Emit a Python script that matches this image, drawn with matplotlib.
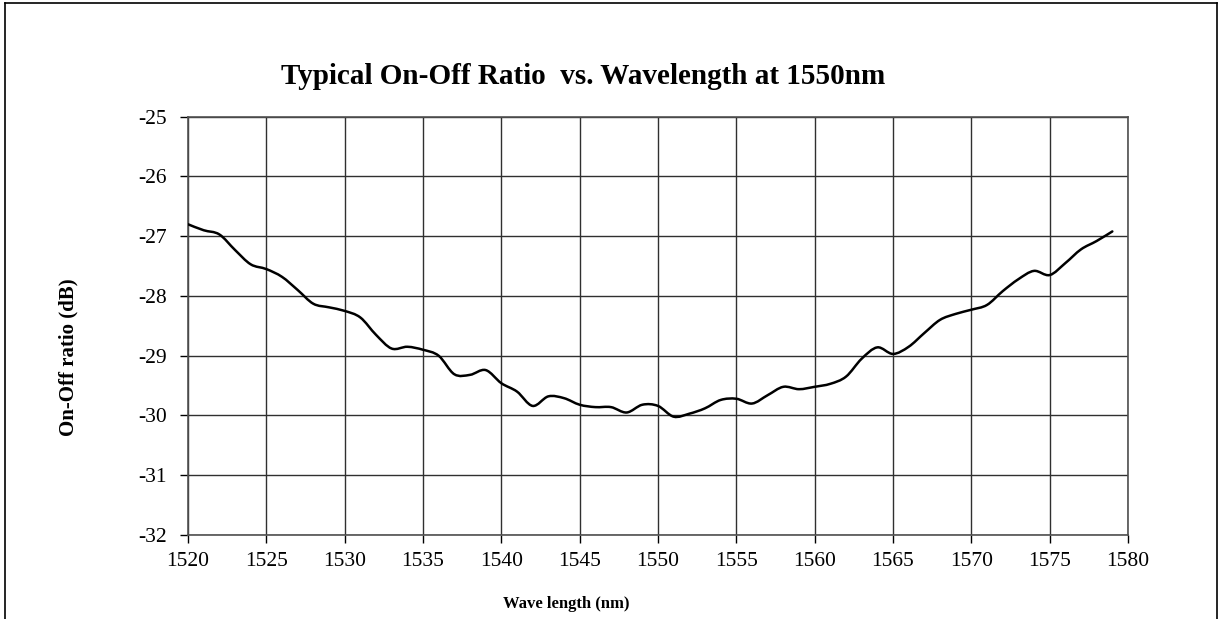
import matplotlib
matplotlib.use("Agg")
import matplotlib.pyplot as plt
from matplotlib.lines import Line2D
from matplotlib.path import Path
from matplotlib.patches import PathPatch
import numpy as np

wavelength = list(range(1520, 1580))
on_off_ratio = [
    -26.80, -26.90, -26.97, -27.23, -27.47, -27.55, -27.68, -27.90, -28.13, -28.19,
    -28.25, -28.36, -28.65, -28.88, -28.85, -28.90, -29.00, -29.31, -29.32, -29.24,
    -29.46, -29.60, -29.84, -29.68, -29.71, -29.82, -29.86, -29.86, -29.95, -29.82,
    -29.84, -30.02, -29.97, -29.88, -29.74, -29.72, -29.80, -29.66, -29.52, -29.56,
    -29.52, -29.47, -29.35, -29.05, -28.86, -28.97, -28.85, -28.62, -28.40, -28.30,
    -28.23, -28.15, -27.92, -27.72, -27.58, -27.65, -27.45, -27.22, -27.08, -26.92,
]
x_ticks = list(range(1520, 1581, 5))
y_ticks = list(range(-32, -24, 1))

title = "Typical On-Off Ratio  vs. Wavelength at 1550nm"
xlabel = "Wave length (nm)"
ylabel = "On-Off ratio (dB)"

plt.rcParams['font.family'] = ['Liberation Serif', 'DejaVu Serif']
plt.rcParams['axes.unicode_minus'] = False

W, H = 1225, 619
fig = plt.figure(figsize=(W / 100, H / 100), dpi=100)
fig.patch.set_facecolor('white')

# outer chart frame
frame_kw = dict(color='black', lw=1.2, transform=fig.transFigure)
fig.add_artist(Line2D([5 / W, 5 / W], [0, 1 - 3 / H], **frame_kw))
fig.add_artist(Line2D([1217 / W, 1217 / W], [0, 1 - 3 / H], **frame_kw))
fig.add_artist(Line2D([5 / W, 1217 / W], [1 - 3 / H, 1 - 3 / H], **frame_kw))

left, right = 188 / W, 1128 / W
top, bottom = 1 - 116.7 / H, 1 - 535 / H
ax = fig.add_axes([left, bottom, right - left, top - bottom])

# smoothed line (Catmull-Rom as cubic Bezier segments through the data points)
xs = np.asarray(wavelength, float)
ys = np.asarray(on_off_ratio, float)
verts = [(xs[0], ys[0])]
codes = [Path.MOVETO]
n = len(xs)
for i in range(n - 1):
    p0 = (xs[max(i - 1, 0)], ys[max(i - 1, 0)])
    p1 = (xs[i], ys[i])
    p2 = (xs[i + 1], ys[i + 1])
    p3 = (xs[min(i + 2, n - 1)], ys[min(i + 2, n - 1)])
    c1 = (p1[0] + (p2[0] - p0[0]) / 6, p1[1] + (p2[1] - p0[1]) / 6)
    c2 = (p2[0] - (p3[0] - p1[0]) / 6, p2[1] - (p3[1] - p1[1]) / 6)
    verts += [c1, c2, p2]
    codes += [Path.CURVE4] * 3
ax.add_patch(PathPatch(Path(verts, codes), facecolor='none', edgecolor='black',
                       lw=1.8, capstyle='round', joinstyle='round', zorder=3))

ax.set_xlim(1520, 1580)
ax.set_ylim(-32, -25)
ax.set_xticks(x_ticks)
ax.set_yticks(y_ticks)
ax.grid(True, color='#303030', lw=1.0)
ax.set_axisbelow(True)
for s in ax.spines.values():
    s.set_color('#505050')
    s.set_linewidth(1.2)

ax.tick_params(axis='both', direction='out', length=6, width=1.0, color='black',
               labelsize=15.5)
ax.tick_params(axis='x', pad=6)
ax.tick_params(axis='y', pad=9)

fig.text(583 / W, 1 - 76 / H, title, ha='center', va='center',
         fontsize=21, fontweight='bold')
fig.text(566 / W, 1 - 604 / H, xlabel, ha='center', va='center',
         fontsize=12, fontweight='bold')
fig.text(68 / W, 1 - 357 / H, ylabel, ha='center', va='center',
         fontsize=15, fontweight='bold', rotation=90)

fig.savefig('out.png', dpi=100, facecolor='white')
